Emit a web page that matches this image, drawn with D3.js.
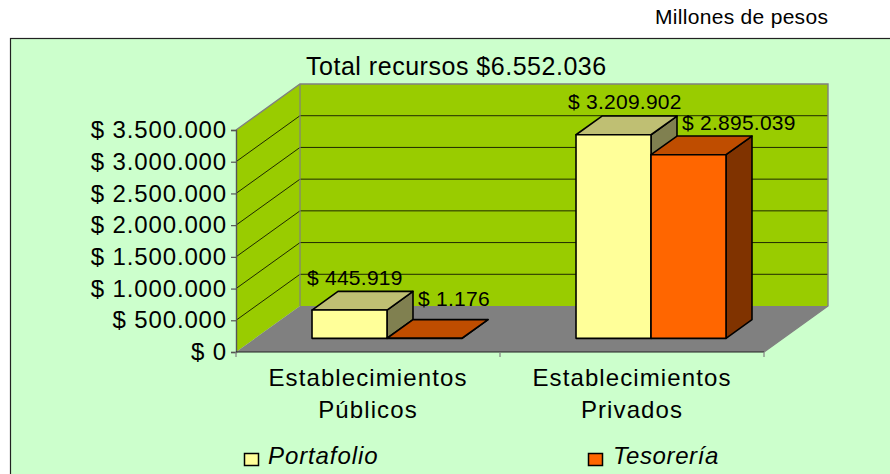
<!DOCTYPE html>
<html><head><meta charset="utf-8">
<style>html,body{margin:0;padding:0;background:#fff}svg{display:block}text{font-family:"Liberation Sans",Arial,sans-serif;fill:#000}</style>
<script src="https://cdn.jsdelivr.net/npm/d3@7"></script></head><body>
<svg id="c" width="890" height="474"></svg>
<script>
const categories=[["Establecimientos","Públicos"],["Establecimientos","Privados"]];
const seriesNames=["Portafolio","Tesorería"];
const portafolio=[445919,3209902];
const tesoreria=[1176,2895039];
const valueLabels=[["$ 445.919","$ 3.209.902"],["$ 1.176","$ 2.895.039"]];
const tickValues=[0,500000,1000000,1500000,2000000,2500000,3000000,3500000];
const tickLabels=["$ 0","$ 500.000","$ 1.000.000","$ 1.500.000","$ 2.000.000","$ 2.500.000","$ 3.000.000","$ 3.500.000"];
const fills=[{f:"#FFFF99",t:"#BFBF73",s:"#808050"},{f:"#FF6600",t:"#BF4D00",s:"#803300"}];

const svg=d3.select("#c");
const x0=236,x1=764,y0=352,y1=130,DX=64,DY=-46;
const x=d3.scaleBand().domain([0,1]).range([x0,x1]);
const y=d3.scaleLinear().domain([0,3500000]).range([y0,y1]);
const bx=d3.scaleBand().domain([0,1]).range([-75,75]);
const F0=0.297,F1=0.703;
const pts=a=>a.map(p=>p.join(",")).join(" ");

svg.append("rect").attr("x",10.5).attr("y",38.5).attr("width",900).attr("height",460).attr("fill","#CCFFCC").attr("stroke","#222").attr("stroke-width",1.2);

svg.append("polygon").attr("points",pts([[x0,y0],[x0+DX,y0+DY],[x0+DX,y1+DY],[x0,y1]])).attr("fill","#99CC00");
svg.append("polygon").attr("points",pts([[x0+DX,y0+DY],[x1+DX,y0+DY],[x1+DX,y1+DY],[x0+DX,y1+DY]])).attr("fill","#99CC00");
svg.append("polygon").attr("points",pts([[x0,y0],[x1,y0],[x1+DX,y0+DY],[x0+DX,y0+DY]])).attr("fill","#808080");
tickValues.slice(1,-1).forEach(v=>{
  svg.append("polyline").attr("points",pts([[x0,y(v)],[x0+DX,y(v)+DY],[x1+DX,y(v)+DY]])).attr("fill","none").attr("stroke","#1f2a00").attr("stroke-width",1);
});
svg.append("polyline").attr("points",pts([[x0,y1],[x0+DX,y1+DY],[x1+DX,y1+DY],[x1+DX,y0+DY],[x1,y0]])).attr("fill","none").attr("stroke","#808080").attr("stroke-width",1.4);
svg.append("line").attr("x1",x0+DX).attr("x2",x0+DX).attr("y1",y1+DY).attr("y2",y0+DY).attr("stroke","#808080").attr("stroke-width",1.2);

const yAxis=d3.axisLeft(y).tickValues(tickValues).tickFormat((d,i)=>tickLabels[i]).tickSize(5).tickPadding(4);
const ya=svg.append("g").attr("transform",`translate(${x0},0)`).call(yAxis);
ya.select(".domain").attr("stroke","#555").attr("stroke-width",1.4);
ya.selectAll(".tick line").attr("stroke","#555").attr("stroke-width",1.2);
ya.selectAll("text").style("font-family",'"Liberation Sans",Arial,sans-serif').style("font-size","24px").style("letter-spacing","0.85px").attr("fill","#000");
svg.append("line").attr("x1",x0).attr("x2",x1).attr("y1",y0).attr("y2",y0).attr("stroke","#222").attr("stroke-width",1.2);
[x0,(x0+x1)/2,x1].forEach(t=>svg.append("line").attr("x1",t).attr("x2",t).attr("y1",y0).attr("y2",y0+5).attr("stroke","#808080").attr("stroke-width",1.2));

const dataSeries=[portafolio,tesoreria];
const fx=F0*DX,fy=F0*DY,dd=(F1-F0)*DX,de=(F1-F0)*DY;
[0,1].forEach(c=>[0,1].forEach(s=>{
  const v=dataSeries[s][c];
  const L=x(c)+x.bandwidth()/2+bx(s)+fx,R=L+bx.bandwidth(),B=y(0)+fy,T=y(v)+fy;
  const g=svg.append("g").attr("stroke","#000").attr("stroke-width",1.6).attr("stroke-linejoin","round");
  g.append("polygon").attr("points",pts([[R,B],[R+dd,B+de],[R+dd,T+de],[R,T]])).attr("fill",fills[s].s);
  g.append("polygon").attr("points",pts([[L,T],[R,T],[R+dd,T+de],[L+dd,T+de]])).attr("fill",fills[s].t);
  g.append("rect").attr("x",L).attr("y",T).attr("width",R-L).attr("height",B-T).attr("fill",fills[s].f);
}));
const labelPos=[[[307,285],[568,109]],[[418,306],[682,130]]];
valueLabels.forEach((row,s)=>row.forEach((t,c)=>{
  svg.append("text").attr("x",labelPos[s][c][0]).attr("y",labelPos[s][c][1]).attr("font-size",21).style("letter-spacing","0.25px").text(t);
}));

svg.append("text").attr("x",655).attr("y",24).attr("font-size",21).style("letter-spacing","0.3px").text("Millones de pesos");
svg.append("text").attr("x",306).attr("y",75).attr("font-size",25).style("letter-spacing","0.52px").text("Total recursos $6.552.036");

categories.forEach((ls,c)=>ls.forEach((t,i)=>{
  svg.append("text").attr("x",x(c)+x.bandwidth()/2).attr("y",386+i*32).attr("text-anchor","middle").attr("font-size",24).style("letter-spacing","1.1px").text(t);
}));

const legX=[244.5,588.5],legT=[268,613],legS=[0.9,0.6];
seriesNames.forEach((n,i)=>{
  svg.append("rect").attr("x",legX[i]).attr("y",453.5).attr("width",14).attr("height",12).attr("fill",fills[i].f).attr("stroke","#000").attr("stroke-width",1.5);
  svg.append("text").attr("x",legT[i]).attr("y",464).attr("font-size",24).attr("font-style","italic").style("letter-spacing",legS[i]+"px").text(n);
});
</script></body></html>
